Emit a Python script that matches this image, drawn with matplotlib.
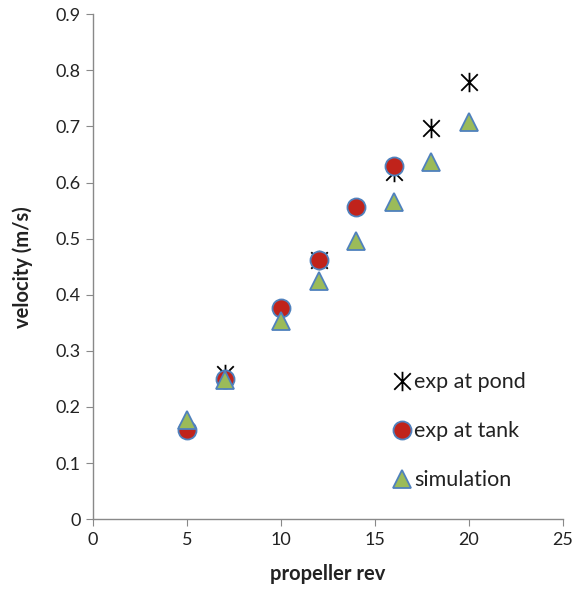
import matplotlib
matplotlib.use("Agg")
import matplotlib.pyplot as plt
from matplotlib.path import Path

plt.rcParams['font.family'] = ['Lato', 'DejaVu Sans']

pond_x = [7, 12, 16, 18, 20]
pond_y = [0.258, 0.462, 0.618, 0.698, 0.779]
tank_x = [5, 7, 10, 12, 14, 16]
tank_y = [0.159, 0.250, 0.377, 0.462, 0.556, 0.630]
sim_x = [5, 7, 10, 12, 14, 16, 18, 20]
sim_y = [0.176, 0.248, 0.354, 0.424, 0.495, 0.566, 0.637, 0.707]

xticks = [0, 5, 10, 15, 20, 25]
yticks = [0, 0.1, 0.2, 0.3, 0.4, 0.5, 0.6, 0.7, 0.8, 0.9]

star = Path([(0, -1), (0, 1), (-0.85, -0.85), (0.85, 0.85), (-0.85, 0.85), (0.85, -0.85)],
            [Path.MOVETO, Path.LINETO, Path.MOVETO, Path.LINETO, Path.MOVETO, Path.LINETO])

fig = plt.figure(figsize=(5.81, 5.90), dpi=100)
ax = fig.add_axes([0.160, 0.120, 0.809, 0.856])

ax.plot(pond_x, pond_y, linestyle='none', marker=star, markersize=14,
        markeredgecolor='black', markeredgewidth=1.3, color='black', label='exp at pond')
ax.plot(tank_x, tank_y, linestyle='none', marker='o', markersize=13,
        markerfacecolor='#c0231b', markeredgecolor='#4f81bd', markeredgewidth=1.3, label='exp at tank')
ax.plot(sim_x, sim_y, linestyle='none', marker='^', markersize=13,
        markerfacecolor='#9bbb59', markeredgecolor='#4f81bd', markeredgewidth=1.3, label='simulation')

ax.set_xlim(0, 25)
ax.set_ylim(0, 0.9)
ax.set_xticks(xticks)
ax.set_yticks(yticks)
ax.set_xticklabels([str(t) for t in xticks])
ax.set_yticklabels(['0'] + [f'{t:.1f}' for t in yticks[1:]])
for s in ['top', 'right']:
    ax.spines[s].set_visible(False)
for s in ['left', 'bottom']:
    ax.spines[s].set_color('#898989')
    ax.spines[s].set_linewidth(1.0)
ax.tick_params(axis='both', direction='out', length=5, color='#898989', labelsize=13, labelcolor='#222222')
ax.tick_params(axis='x', pad=4)
ax.tick_params(axis='y', pad=4)

ax.set_xlabel('propeller rev', fontsize=14.5, fontweight='bold', labelpad=12, color='#222222')
ax.set_ylabel('velocity (m/s)', fontsize=14.5, fontweight='bold', labelpad=16, color='#222222')

leg = ax.legend(loc='lower right', bbox_to_anchor=(0.94, 0.04), frameon=False, fontsize=15.5,
                handletextpad=0.1, labelspacing=1.35, handlelength=1.0, borderaxespad=0)
for t in leg.get_texts():
    t.set_color('#222222')

fig.savefig('out.png', dpi=100)
